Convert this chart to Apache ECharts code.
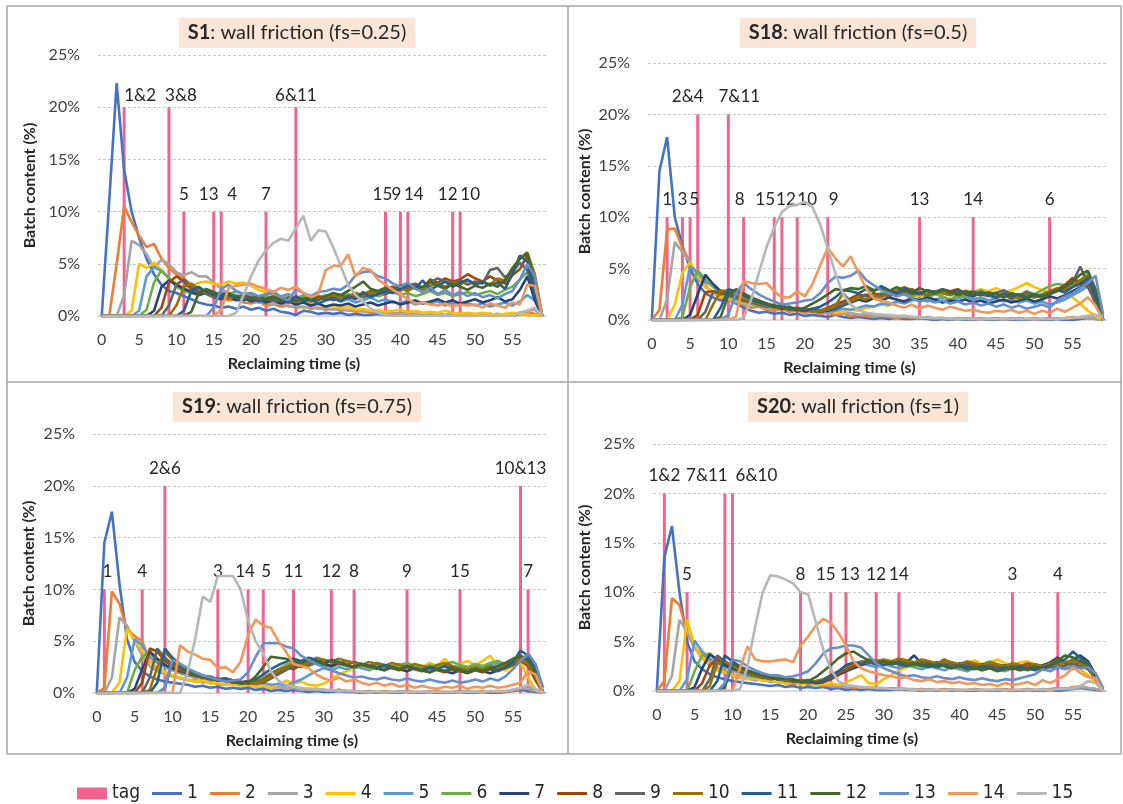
<!DOCTYPE html>
<html>
<head>
<meta charset="utf-8">
<script src="https://cdn.jsdelivr.net/npm/echarts@6/dist/echarts.min.js"></script>
<style>
html, body { margin: 0; padding: 0; background: #fff; }
#chart { width: 1123px; height: 804px; }
</style>
</head>
<body>
<div id="chart"></div>
<script>
// 回收时间 (s)
var times = [0,1,2,3,4,5,6,7,8,9,10,11,12,13,14,15,16,17,18,19,20,21,22,23,24,25,26,27,28,29,
             30,31,32,33,34,35,36,37,38,39,40,41,42,43,44,45,46,47,48,49,50,51,52,53,54,55,56,57,58,59];
var batchNames = ['1','2','3','4','5','6','7','8','9','10','11','12','13','14','15'];
var batchColors = ['#4472C4','#ED7D31','#A5A5A5','#FFC000','#5B9BD5','#70AD47','#264478','#9E480E',
                   '#636363','#997300','#255E91','#43682B','#698ED0','#F1975A','#B7B7B7'];
var tagColor = '#F0658F';
var yTicks = [0, 5, 10, 15, 20, 25];

// S1: wall friction (fs=0.25)
var linesS1 = [
 [0,11,22.3,14,10,7.5,5.5,4,3,2.4, 2.2,1.9,1.6,1.3,1.1,1,0.8,0.9,0.7,0.9, 0.6,0.8,0.5,0.7,0.4,0.3,0.1,0.5,0.4,0.2, 0.3,0.2,0.3,0.1,0.2,0.1,0.1,0.2,0.1,0.1, 0.1,0,0.1,0,0.1,0,0,0.1,0,0, 0,0.1,0,0,0.1,0,0.2,0.1,0.1,0],
 [0,0,5,10.5,9,7.7,6.6,6.9,5.5,4.6, 4,3.6,3,2.6,2.2,2,1.8,1.5,1.6,1.3, 1.2,1.4,1,1.1,0.9,1,0.8,0.9,0.7,0.8, 0.6,0.7,0.5,0.6,0.4,0.5,0.3,0.4,0.3,0.2, 0.3,0.2,0.2,0.1,0.2,0.1,0.1,0.2,0.1,0.1, 0.1,0.1,0.2,0.1,0.1,0.2,0.3,0.4,0.2,0],
 [0,0,0,2,7.2,6.8,5.9,4.6,5.4,5, 4.2,3.9,4.2,3.8,3.8,3.2,2.6,2.2,1.9,1.6, 1.5,1.3,1.4,1.1,1.2,0.9,1,0.8,0.9,0.7, 0.8,0.6,0.7,0.5,0.6,0.4,0.5,0.4,0.3,0.3, 0.2,0.3,0.2,0.2,0.1,0.2,0.1,0.1,0.2,0.1, 0.1,0.1,0.1,0.2,0.1,0.1,0.3,0.5,0.6,0],
 [0,0,0,0,0.5,5,4.6,5.1,4.4,3.6, 3.1,2.7,2.8,3.2,3.3,3.1,3,3.3,3.1,3.2, 2.9,2.5,2.3,2,1.8,2.1,1.6,1.4,1.2,1.1, 0.9,1,0.8,0.9,0.6,0.7,0.5,0.6,0.4,0.5, 0.6,0.4,0.5,0.3,0.4,0.3,0.5,0.3,0.2,0.3, 0.2,0.3,0.2,0.1,0.2,0.3,0.2,0.1,0.1,0],
 [0,0,0,0,0,0.5,3.8,4.7,4.3,3.6, 3,2.6,2.4,2.1,2.2,1.9,2.3,2,2.4,2.1, 2.2,1.8,2,2.2,1.9,2.1,1.7,2,1.6,1.8, 1.5,1.7,1.4,1.6,1.3,1.5,1.8,1.4,1.6,1.3, 1.2,1.5,1.1,1.3,1.2,1.4,1,1.3,1.1,1.2, 1,1.2,0.9,1.1,1.3,1,1.4,2,1.5,0],
 [0,0,0,0,0,0,0.6,3.2,4.4,3.6, 2.8,2.4,2.2,2,2.3,2.1,1.9,2.2,2,1.8, 2,1.7,1.9,1.6,1.8,1.5,1.7,1.9,1.6,1.8, 2,1.7,1.9,2.1,1.8,2,2.2,1.9,2.1,2.3, 2,2.2,1.9,2.1,2.4,2,2.2,1.9,2.1,2.3, 2,2.2,2.4,2.1,2.5,2.8,3.5,4.2,2.5,0],
 [0,0,0,0,0,0,0,0.5,2.8,3.4, 3,2.6,2.3,2,2.2,1.8,1.6,1.9,1.5,1.7, 1.4,1.6,1.3,1.5,1.2,1.4,1.1,1.3,1,1.2, 0.9,1.1,1,1.2,0.9,1.1,1.3,1,1.2,1.4, 1.1,1.3,1.5,1.2,1.4,1.6,1.3,1.5,1.2,1.4, 1.6,1.3,1.5,1.8,1.4,1.6,2.5,3.8,1.5,0],
 [0,0,0,0,0,0,0,0,0.8,3.2, 3.8,3.3,2.6,2.2,2.4,2,1.8,2.1,1.7,1.9, 1.6,1.8,1.5,1.7,1.4,1.6,1.8,1.5,1.7,1.9, 1.6,1.8,2,1.7,1.9,2.1,2.4,2.2,2.6,2.8, 2.5,2.9,3.1,2.7,3.5,3.2,3.6,3.3,3.5,4, 3.6,3.3,3.8,3.4,3.1,3.9,4.5,5.8,3,0],
 [0,0,0,0,0,0,0,0,0,1, 3,3.5,2.8,2.4,2.1,1.8,2,1.7,1.9,1.6, 1.8,1.5,1.7,1.4,1.6,1.3,1.5,1.7,1.4,1.6, 1.8,1.5,1.7,1.9,2.1,1.8,2,2.3,2.1,2.5, 2.8,2.6,3,2.7,3.2,3.6,3.3,3.1,3.4,3, 3.3,3.1,4.4,4.6,3.7,4.2,5.1,4.4,2.2,0],
 [0,0,0,0,0,0,0,0,0,0, 1,2.8,3.1,2.6,2.2,1.9,2.1,1.7,1.9,1.6, 1.8,1.5,1.7,1.9,1.6,1.8,1.5,1.7,1.4,1.6, 1.8,2,1.7,1.9,2.2,2,2.3,2.1,2.5,2.3, 2.6,2.4,2.8,2.5,2.9,3.1,2.8,3.2,3,3.4, 3.1,3.3,3,3.6,3.4,4.2,5.5,6.1,4,0],
 [0,0,0,0,0,0,0,0,0,0, 0,0.5,2.4,2.8,2.3,2,1.8,2.1,1.7,1.5, 1.7,1.4,1.6,1.8,1.5,1.3,1.9,1.4,1.6,1.2, 1.5,1.7,1.4,1.9,1.6,2.3,1.8,2.1,2.4,2.2, 2.6,3,2.7,3.4,2.5,2.9,3.3,2.8,3.2,3.5, 3,3.3,2.9,3.2,2.6,4,5.8,5.2,2,0],
 [0,0,0,0,0,0,0,0,0,0, 0,0,0.4,2.2,2.6,2.3,2,2.2,1.8,2, 1.7,1.9,1.6,1.8,1.5,1.7,1.4,1.6,1.8,1.5, 1.9,2.2,2,2.4,2.8,3.3,2.6,2.4,2.7,2.5, 2.9,3.1,2.6,2.8,3.3,2.9,2.6,3.1,2.8,2.5, 2.9,2.7,3.1,2.8,3.4,4.6,5.5,6,3.2,0],
 [0,0,0,0,0,0,0,0,0,0, 0,0,0,0,0,0.8,2.6,3,2.4,2.1, 2.2,1.9,2.1,2.4,1.8,1.5,2.6,2.2,1.9,2.3, 2.4,2.6,2.5,3,3.9,4.2,4.3,3.8,3.6,3.1, 2.8,3.2,2.6,2.3,2.7,2.1,2.5,2,2.3,1.9, 2.2,1.8,2,1.7,2.1,2.4,3.5,5,3.8,0],
 [0,0,0,0,0,0,0,0,0,0, 0,0,0,0,0,0,0.6,2.7,2.9,3, 3.1,2.8,2.6,2.3,2.7,2.5,2.8,2.2,1.8,2.1, 4.4,4.8,4.8,5.9,3.8,4.6,4.4,3.5,3,2.5, 2.1,1.6,1.2,1.3,1.1,1,1.2,0.9,1.1,1, 1.1,0.8,1.2,1,0.8,1.3,1.1,3,2.9,0],
 [0,0,0,0,0,0,0,0,0,0, 0,0,0,0,0,0,0,0,0.3,2, 3.8,5.3,6.3,7,7.4,7.2,8.4,9.6,7.2,8.2, 8.1,6.6,4.8,3,2,1.4,0.7,0.3,0.1,0, 0,0,0,0,0,0,0,0,0,0, 0,0,0,0,0,0,0.3,0.5,0.8,0]
];
// [时间, 高度, 标签]
var tagsS1 = [[3,20,'1&2'],[9,20,'3&8'],[11,10,'5'],[15,10,'13'],[16,10,'4'],[22,10,'7'],[26,20,'6&11'],
              [38,10,'15'],[40,10,'9'],[41,10,'14'],[47,10,'12'],[48,10,'10']];

// S18: wall friction (fs=0.5)
var linesS18 = [
 [0,14.5,17.8,10,7.2,5,3.5,2.6,2.2,1.9, 2,1.6,1.2,0.9,0.7,0.8,0.6,0.7,0.5,0.6, 0.4,0.5,0.4,0.3,0.5,0.3,0.2,0.3,0.2,0.1, 0.2,0.1,0.2,0.1,0.1,0.2,0.1,0,0.1,0, 0.1,0,0,0.1,0,0,0.1,0,0,0, 0.1,0,0,0.1,0,0,0.1,0.2,0.1,0],
 [0,1,8.8,8.9,7,5.6,4.3,3.4,2.6,2.2, 1.9,1.7,1.5,1.2,1.3,1,0.9,1.1,0.8,0.9, 0.7,0.8,0.6,0.7,0.5,0.6,0.4,0.5,0.4,0.3, 0.4,0.3,0.2,0.3,0.2,0.3,0.2,0.1,0.2,0.1, 0.1,0.2,0.1,0.1,0.1,0.2,0.1,0.1,0.2,0.1, 0.1,0.1,0.2,0.1,0.2,0.3,0.2,0.4,0.3,0],
 [0,0,2,7.6,6.6,5.6,4.1,3.2,2.7,2.3, 2.1,1.8,1.6,1.4,1.5,1.2,1.1,1.3,1,0.9, 1,0.8,0.9,0.7,0.8,0.6,0.7,0.5,0.6,0.4, 0.5,0.4,0.3,0.4,0.3,0.2,0.3,0.2,0.2,0.1, 0.2,0.1,0.1,0.2,0.1,0.1,0.1,0.2,0.1,0.1, 0.2,0.1,0.1,0.2,0.1,0.2,0.3,0.2,0.1,0],
 [0,0,0,1.5,4.6,5.6,4.4,3.2,2.6,2.3, 2.1,1.9,1.7,1.5,1.6,1.3,1.4,1.2,1,1.1, 0.9,1,0.8,0.9,0.7,0.8,1,0.9,1.2,1.3, 1.5,1.4,1.7,1.9,2.1,2.4,2.2,2.6,2.5,2.8, 2.6,2.9,2.7,3,2.8,3.1,2.7,2.9,3.2,3.6, 3.2,2.9,2.7,3,2.6,2.2,1.6,0.9,0.4,0],
 [0,0,0,0,1.5,5.2,4.6,3.7,3.3,2.7, 2.4,2.1,1.9,1.6,1.8,1.5,1.3,1.4,1.2,1, 1.1,0.9,1,0.8,0.9,1.1,1,1.2,1.4,1.3, 1.6,1.5,1.8,1.6,1.9,2.1,1.8,2,2.2,1.9, 2.1,2.3,2,2.2,1.9,2.1,1.8,2,1.7,1.9, 1.6,1.8,1.5,1.7,2,2.4,2.8,3.3,2.1,0],
 [0,0,0,0,0.3,3.2,4.8,4,3.2,2.6, 2.3,2,1.8,1.6,1.4,1.5,1.2,1.3,1,1.1, 0.9,1,0.8,1,1.3,1.6,1.9,2.2,2.5,2.3, 2.6,2.4,2.7,2.5,2.3,2.6,2.2,2.5,2.3,2, 2.4,2.2,2.6,2.9,2.5,2.7,2.3,2.6,2.4,2.8, 2.5,2.9,3.3,3.5,3.4,3.6,3.9,4.5,2.8,0],
 [0,0,0,0,0,0.5,2.5,4.4,3.5,2.8, 2.5,2.2,2,1.8,1.6,1.5,1.3,1.1,1.2,1, 0.9,1,0.8,0.9,1.1,1.4,1.7,2,1.8,2.1, 1.9,2.2,2,1.8,2.1,1.9,2.2,2,1.7,1.9, 1.8,2,1.7,1.9,1.6,1.8,2,1.7,1.9,2.1, 1.8,2,2.3,2.1,2.4,2.8,3.2,3.8,2.2,0],
 [0,0,0,0,0,0,0.5,2.7,2.8,2.5, 2.7,2.3,2,1.8,1.5,1.6,1.3,1.4,1.1,1.2, 1,1.1,0.9,1.2,1.5,1.8,2.1,2.5,2.3,2.6, 2.4,2.7,2.5,2.8,3,2.6,2.9,2.7,3,2.8, 3,2.6,2.4,2.7,2.5,2.2,2.4,2.1,2.3,2.5, 2.2,2.4,2.7,3,3.4,4.1,3.6,3.2,1.8,0],
 [0,0,0,0,0,0,0,0.8,2.7,2.9, 2.6,2.2,1.9,1.7,1.5,1.3,1.4,1.2,1,1.1, 0.9,1,0.8,1,1.2,1.5,1.8,2.1,2.4,2.2, 2.5,2.3,2.6,2.8,2.5,2.7,2.4,2.6,2.9,2.7, 2.4,2.6,2.8,2.5,2.3,2.6,2.9,2.5,2.3,2.7, 2.4,2.2,2.5,2.8,3.1,3.6,5.2,3.5,1.5,0],
 [0,0,0,0,0,0,0,0,1.5,2.8, 2.9,2.5,2.1,1.8,1.6,1.4,1.2,1.3,1.1,0.9, 1,0.8,0.9,1.1,1.4,2.6,1.8,2.2,2,2.4, 2.2,2.6,2.9,3.2,2.9,2.7,2.5,2.8,2.6,2.4, 2.7,2.5,2.3,2.6,2.4,2.2,2.5,2.3,2.1,2.4, 2.2,2.5,2.8,3.1,2.9,3.3,3.8,4.3,2.5,0],
 [0,0,0,0,0,0,0,0,0,1.2, 3,2.8,2.4,2,1.7,1.5,1.3,1.4,1.1,1, 0.9,1.1,1.3,1.7,2.2,2.9,2.8,2.6,3,2.8, 3.3,2.9,2.6,3.1,2.8,2.5,2.9,2.7,3,2.6, 2.9,2.5,2.3,2.7,2.4,2.2,2.6,2.3,2.5,2.2, 2.5,2.3,2.6,2.9,2.7,3.2,3.5,4.1,2.3,0],
 [0,0,0,0,0,0,0,0,0,0.3, 2.4,3,2.6,2.2,1.9,1.6,1.4,1.2,1.3,1, 1.2,1.6,2,2.5,3,2.9,3.1,3,3.3,2.9, 3.1,2.8,3.2,2.9,2.7,3.1,2.8,2.6,2.9,2.7, 2.5,2.8,2.6,2.4,2.7,2.5,2.2,2.6,2.4,2.1, 2.4,2.2,2.6,2.9,3.2,3.8,4.4,4.8,3,0],
 [0,0,0,0,0,0,0,0,0,0, 0.5,2.6,3.6,3,2.5,2.1,1.8,1.5,1.6,1.7, 1.9,2,2.6,3.6,4.2,4.1,4.3,4.8,3.9,3.4, 2.9,2.6,2.3,2.5,2.1,1.8,2,1.7,1.9,1.6, 1.8,1.5,1.7,1.4,1.6,1.3,1.5,1.2,1.4,1.1, 1.3,1.5,1.2,1.9,2.3,2.6,3.1,3.6,4.3,0.5],
 [0,0,0,0,0,0,0,0,0,0, 0,0.3,3.8,3.6,3.5,3.6,2.8,2.2,2.2,2.8, 2.3,3.5,5.3,7,6,5.2,6.2,4.6,3.1,2.1, 1.9,1.7,1.4,1.2,1.5,1.1,1.4,1.2,1,1.3, 1.1,0.9,1,0.8,0.7,0.9,0.8,1,0.7,0.9, 0.6,0.9,0.7,1.1,0.8,1.2,1.6,2.2,1.4,0],
 [0,0,0,0,0,0,0,0,0,0, 0,0,0.2,2,4.6,7.1,9,10.5,11.1,11.2, 11.5,11,9.3,7,4.5,2.5,1.5,1,0.7,0.6, 0.5,0.5,0.4,0.4,0.3,0.3,0.2,0.2,0.2,0.1, 0.1,0.1,0.1,0.1,0.1,0.1,0.1,0.1,0.1,0.1, 0.1,0.1,0.1,0.1,0.2,0.2,0.3,0.4,0.5,0.3]
];
var tagsS18 = [[2,10,'1'],[4,10,'3'],[5,10,'5'],[6,20,'2&4'],[10,20,'7&11'],[12,10,'8'],[16,10,'15'],
               [17,10,'12'],[19,10,'10'],[23,10,'9'],[35,10,'13'],[42,10,'14'],[52,10,'6']];

// S19: wall friction (fs=0.75)
var linesS19 = [
 [0,14.5,17.5,10.5,5.2,3,2.1,1.6,1.3,1.1, 1,0.9,0.8,0.6,0.7,0.5,0.6,0.4,0.5,0.4, 0.5,0.3,0.4,0.2,0.3,0.2,0.3,0.2,0.1,0.2, 0.1,0.1,0.2,0.1,0.1,0,0.1,0,0.1,0, 0,0.1,0,0,0.1,0,0,0,0.1,0, 0,0.1,0,0,0.1,0.2,0.3,0.2,0.1,0],
 [0,0.5,9.8,8.6,6.1,5.5,5,3.1,2.4,2, 1.7,1.5,1.3,1.1,1.2,1,0.9,0.8,0.9,0.7, 0.8,0.6,0.7,0.5,0.6,0.4,0.5,0.4,0.3,0.4, 0.3,0.2,0.3,0.2,0.2,0.1,0.2,0.1,0.2,0.1, 0.1,0.2,0.1,0.1,0.1,0.2,0.1,0.1,0.2,0.1, 0.1,0.2,0.1,0.2,0.1,0.3,0.4,0.6,0.3,0],
 [0,0,1.5,7.3,6.5,5,3.6,2.6,2.1,1.8, 1.6,1.4,1.2,1.3,1,1.1,0.9,0.8,0.9,0.7, 0.8,0.6,0.7,0.5,0.6,0.4,0.5,0.3,0.4,0.3, 0.3,0.2,0.3,0.2,0.2,0.1,0.2,0.1,0.1,0.1, 0.2,0.1,0.1,0.1,0.2,0.1,0.1,0.1,0.1,0.2, 0.1,0.1,0.2,0.1,0.2,0.3,0.5,0.4,0.2,0],
 [0,0,0,1,6.2,5,4.1,3,2.4,2, 1.7,1.5,1.3,1.1,1.2,0.9,1,0.8,0.9,0.7, 0.8,0.6,0.7,0.5,0.8,1.2,0.9,1.1,0.8,0.7, 0.9,1.3,1.8,2.1,2.4,2.6,2.3,2.5,2.7,2.4, 2.6,2.3,2.8,2.5,2.9,2.6,3.3,2.5,2.8,3.1, 2.7,3.1,3.6,2.5,2.2,2.6,2.9,1.5,0.3,0],
 [0,0,0,0,1.5,5.2,4.6,3.5,2.9,2.5, 2.2,1.9,1.7,1.5,1.6,1.3,1.4,1.1,1.2,1, 1.1,0.9,1,0.8,0.9,0.7,1,1.3,1.7,2.1, 2.4,2.2,2.5,2.3,2.6,2.4,2.2,2.5,2.3,2.6, 2.8,2.5,2.3,2.6,2.4,2.7,2.5,2.2,2.5,2.3, 2.6,2.4,2.7,2.9,2.6,3,3.3,3.6,2.4,0],
 [0,0,0,0,0,2.2,3.5,3.9,3.1,2.6, 2.3,2,1.8,1.6,1.4,1.5,1.2,1.3,1.1,0.9, 1,1.2,1.5,1.9,2.3,2.7,3,2.8,2.6,2.9, 2.7,2.5,2.8,2.6,2.4,2.7,2.5,2.3,2.6,2.4, 2.7,2.9,2.6,2.4,2.7,2.5,2.8,3,2.7,2.5, 2.8,2.6,2.9,3.1,2.8,3.2,3.4,3,1.5,0],
 [0,0,0,0,0,0.4,2.3,4,3.3,2.7, 2.4,2.1,1.9,1.7,1.5,1.6,1.3,1.4,1.2,1, 1.1,0.9,1.2,1.6,2,2.4,2.7,2.5,2.8,3.1, 2.8,2.6,2.9,2.7,2.5,2.8,2.6,2.4,2.2,2.5, 2.3,2.1,2.4,2.2,2,2.3,2.1,1.9,2.2,2, 2.3,2.1,1.9,2.2,2.5,2.9,3.5,3.2,1.8,0],
 [0,0,0,0,0,0,1,4.3,4,3.1, 2.6,2.2,1.9,1.7,1.5,1.3,1.4,1.2,1,1.1, 0.9,1,1.3,1.8,2.2,2.5,2.3,2.7,3.1,2.9, 3.2,3,2.8,3.1,2.9,2.7,2.5,2.8,2.6,2.4, 2.2,2.5,2.3,2.1,2.4,2.2,2,2.3,2.1,1.9, 2.2,2,2.3,2.1,2.4,2.7,3.1,2.6,1.2,0],
 [0,0,0,0,0,0,0,1.5,4.3,3.4, 2.8,2.3,2,1.8,1.6,1.4,1.2,1.3,1.1,1, 1.1,0.9,1,1.4,1.8,2.2,2.6,2.9,2.7,3, 2.8,3.1,2.9,2.7,3,2.8,2.6,2.9,2.7,2.5, 2.3,2.6,2.4,2.2,2.5,2.3,2.1,2.4,2.2,2, 2.3,2.1,2.4,2.2,2.5,2.8,3.2,2.9,1.5,0],
 [0,0,0,0,0,0,0,0.3,2.5,4, 3.2,2.6,2.2,1.9,1.7,1.5,1.3,1.4,1.2,1, 1.1,0.9,1.2,1.6,2.1,2.5,2.8,2.6,2.9,3.4, 3.2,3,3.3,3.1,2.9,2.7,3,2.8,2.6,2.9, 2.7,2.5,2.8,2.6,2.4,2.7,2.9,2.6,2.4,2.2, 2.5,2.3,2.6,2.4,2.7,3,3.3,2.8,1.6,0],
 [0,0,0,0,0,0,0,0,1,4.3, 3.4,2.8,2.3,2,1.7,1.5,1.3,1.4,1.2,1, 1.1,1.3,1.8,2.3,2.7,3,3.3,3.1,3.4,3.2, 2.9,3.2,3,2.7,2.5,2.8,2.6,2.4,2.7,2.5, 2.3,2.6,2.4,2.2,2.5,2.3,2.6,2.4,2.2,2, 2.3,2.1,2.4,2.2,2.5,3,4.1,3.6,2.2,0],
 [0,0,0,0,0,0,0,0,0,0.5, 3,2.5,2.1,1.8,1.6,1.4,1.2,1.3,1.1,0.9, 1,1.6,2.5,3.5,3.4,3.3,3.1,2.9,3.2,3, 2.8,3.1,2.9,2.7,2.5,2.8,2.6,2.4,2.2,2.5, 2.3,2.6,2.4,2.2,2,2.3,2.1,2.4,2.2,2, 2.3,2.1,2.4,2.6,2.9,3.3,3.6,3.2,1.9,0],
 [0,0,0,0,0,0,0,0,0,0.5, 3.2,2.8,2.4,2,1.7,1.5,1.3,1.1,1.2,1.3, 2,3.5,4.8,4.8,4.8,4.5,4.3,3.6,3.2,2.8, 2.5,2.2,1.9,1.7,1.5,1.6,1.4,1.3,1.5,1.3, 1.2,1.4,1.2,1.1,1.3,1.1,1,1.2,1,1.1, 1.3,1.1,1.4,1.2,1.6,2.3,3.1,3.8,2.8,0.5],
 [0,0,0,0,0,0,0,0,0,0, 0,4.6,4,3.7,3.3,3.2,2.4,2.5,2,3, 5.6,7.1,6.5,6.3,5,4,2.8,2.6,2.4,1.8, 1.4,1.2,1.5,1.1,1.3,1,0.8,1,0.7,0.9, 0.6,0.8,0.5,0.7,0.5,0.4,0.6,0.5,0.7,0.4, 0.6,0.5,0.7,0.5,0.6,0.8,1,2.1,1.8,0],
 [0,0,0,0,0,0,0,0,0,0, 0,0,2,5.2,9.3,8.8,11.3,11.3,11.3,10, 7,5,3.8,2.1,1.2,0.8,0.6,0.5,0.4,0.4, 0.3,0.3,0.2,0.2,0.2,0.1,0.1,0.1,0.1,0.1, 0.1,0.1,0.1,0.1,0.1,0.1,0.1,0.1,0.1,0.1, 0.1,0.1,0.2,0.2,0.2,0.3,0.5,0.8,0.4,0]
];
var tagsS19 = [[1,10,'1'],[6,10,'4'],[9,20,'2&6'],[16,10,'3'],[20,10,'14'],[22,10,'5'],[26,10,'11'],
               [31,10,'12'],[34,10,'8'],[41,10,'9'],[48,10,'15'],[56,20,'10&13'],[57,10,'7']];

// S20: wall friction (fs=1)
var linesS20 = [
 [0,13.5,16.7,10,5,3,2.2,1.7,1.4,1.2, 1,0.9,0.8,0.7,0.6,0.5,0.6,0.4,0.5,0.3, 0.4,0.3,0.4,0.2,0.3,0.1,0.2,0.1,0.2,0.1, 0.1,0.1,0.2,0.1,0.1,0,0.1,0,0.1,0, 0.1,0,0,0.1,0,0,0.1,0,0,0.1, 0,0,0.1,0,0.1,0.2,0.3,0.2,0.1,0],
 [0,1,9.4,8.7,6,4.3,3.8,3,2.4,2, 1.7,1.5,1.3,1.1,1.2,1,0.9,0.8,0.7,0.8, 0.6,0.7,0.5,0.6,0.4,0.5,0.3,0.4,0.3,0.3, 0.2,0.3,0.2,0.2,0.1,0.2,0.1,0.1,0.2,0.1, 0.1,0.1,0.2,0.1,0.1,0.1,0.2,0.1,0.1,0.2, 0.1,0.1,0.2,0.3,0.2,0.4,0.5,0.3,0.2,0],
 [0,0,1.5,7.2,6,4.4,3.3,2.6,2.1,1.8, 1.5,1.3,1.4,1.1,1.2,0.9,1,0.8,0.9,0.7, 0.8,0.6,0.7,0.5,0.6,0.4,0.5,0.3,0.4,0.3, 0.3,0.2,0.3,0.2,0.2,0.1,0.2,0.1,0.1,0.2, 0.1,0.1,0.2,0.1,0.1,0.2,0.1,0.1,0.1,0.2, 0.1,0.2,0.1,0.2,0.3,0.2,0.4,0.3,0.2,0],
 [0,0,0,1,7.2,4.6,3.4,2.7,2.2,1.9, 1.6,1.4,1.2,1.3,1,1.1,0.9,0.8,0.9,0.7, 0.8,0.6,0.7,0.8,0.6,0.9,1.2,1.6,0.8,0.7, 1.2,1.6,2.1,2.4,2.7,2.5,2.8,2.6,2.9,2.7, 2.5,2.8,3.1,2.7,2.9,3.2,2.8,2.6,2.9,3, 2.7,2.5,2.8,2.6,2.3,2.5,2.2,1.6,0.9,0],
 [0,0,0,0,1.2,5.1,4,3.3,2.8,2.4, 2.1,1.8,1.6,1.4,1.5,1.2,1.3,1.1,1,0.9, 1,0.8,1.1,1.4,1.8,2.2,2.5,2.8,2.6,2.4, 2.7,2.5,2.3,2.6,2.4,2.2,2.5,2.3,2.1,2.4, 2.2,2,2.3,2.1,2.4,2.2,2,2.3,2.1,2.4, 2.2,2.5,2.3,2.6,2.4,2.2,2.6,2.3,1.6,0],
 [0,0,0,0,0,2,3.6,3.8,3,2.5, 2.2,1.9,1.7,1.5,1.3,1.4,1.2,1,1.1,0.9, 1,0.8,1,1.3,1.7,2.1,2.4,2.7,2.9,3.1, 2.8,2.6,2.9,2.7,2.5,2.8,2.6,2.9,2.7,2.5, 2.8,2.6,2.4,2.7,3,2.7,2.5,2.8,2.6,2.4, 2.7,2.5,2.8,2.6,2.9,2.7,3,2.5,1.4,0],
 [0,0,0,0,0,0.4,2.3,3.7,3.2,2.6, 2.3,2,1.8,1.6,1.4,1.5,1.2,1.3,1.1,0.9, 1,0.8,0.9,1.2,1.6,2,2.3,2.6,2.9,2.7, 3,2.8,3.1,2.9,3.6,2.8,2.6,2.9,2.7,2.5, 2.8,2.6,2.4,2.7,2.5,2.3,2.6,2.4,2.2,2.5, 2.3,2.6,2.9,3.4,2.8,3.2,3.6,3,1.6,0],
 [0,0,0,0,0,0,0.8,2.6,3.2,2.9, 2.5,2.1,1.8,1.6,1.4,1.5,1.3,1.1,1.2,1, 1.1,0.9,1,1.3,1.7,2.1,2.5,2.8,3,2.8, 3.1,2.9,3.2,3,2.8,3.1,2.9,2.7,3.2,2.8, 2.6,2.9,2.7,2.5,2.8,2.6,2.4,2.7,2.5,2.8, 2.6,2.4,2.7,3.3,2.9,2.6,3,2.6,1.3,0],
 [0,0,0,0,0,0,0,1.2,3.6,3, 2.5,2.1,1.8,1.6,1.4,1.2,1.3,1.1,0.9,1, 0.8,0.9,1.1,1.5,1.9,2.3,2.7,3,2.8,3.1, 2.9,2.7,3,2.8,2.6,2.9,2.7,2.5,2.8,2.6, 2.4,2.7,2.5,2.3,2.6,2.4,2.2,2.5,2.3,2.1, 2.4,2.2,2.5,2.3,2.6,2.8,2.5,2.2,1.2,0],
 [0,0,0,0,0,0,0,0.5,2.8,3, 2.6,2.2,1.9,1.7,1.5,1.3,1.4,1.2,1,1.1, 0.9,1,1.2,1.6,2,2.4,2.7,2.9,3.2,3, 3.2,3,3.3,3.1,2.9,3.2,3,2.8,3.1,2.9, 2.7,3,2.8,2.6,2.9,2.7,2.5,2.8,2.6,2.4, 2.7,2.5,2.8,2.6,2.9,3.1,2.8,2.4,1.3,0],
 [0,0,0,0,0,0,0,0,1,3.6, 3,2.5,2.1,1.8,1.6,1.4,1.2,1.3,1.1,0.9, 1,0.8,1.1,1.5,2,2.6,2.9,2.7,3.1,2.8, 2.6,2.9,2.7,2.5,2.8,2.6,2.4,2.7,2.5,2.3, 2.6,2.4,2.2,2.5,2.3,2.1,2.4,2.2,2.5,2.3, 2.1,2.4,2.6,2.9,3.2,4,3.3,2.9,1.5,0],
 [0,0,0,0,0,0,0,0,0,0.4, 2.8,2.4,2,1.8,1.6,1.4,1.2,1.3,1.1,0.9, 1,1.4,2,2.6,3.3,3.8,4,3.5,3.1,2.8, 3,2.7,2.9,2.6,2.8,2.5,2.7,2.4,2.6,2.3, 2.5,2.2,2.4,2.1,2.3,2,2.2,2.4,2.1,2.3, 2.5,2.2,2.6,3.1,3.6,3.4,3,2.7,1.6,0],
 [0,0,0,0,0,0,0,0,0,0.8, 3.2,3,2.5,2.1,1.8,1.6,1.6,1.4,1.5,1.7, 2,2.8,3.8,4.3,4.4,4.6,4.6,4.4,3.6,2.8, 2.3,2,1.7,1.5,1.6,1.4,1.3,1.5,1.3,1.2, 1.4,1.2,1.1,1.3,1.1,1,1.2,1.1,1.3,1.5, 1.7,2.2,2,2.4,2.2,2.5,2.3,2.4,1.8,0.3],
 [0,0,0,0,0,0,0,0,0,0, 0,2.3,4.5,3.2,3,3,3.1,3.2,2.9,4.6, 5.5,6.6,7.3,6.9,5.9,4.6,3,2.3,2,1.8, 1.6,1.5,1.3,1.4,1.1,1,1.2,0.9,1,0.8, 0.9,0.7,0.8,0.6,0.7,0.5,0.8,0.6,0.7,0.9, 0.6,1.1,0.8,1.2,1.6,2.4,1.8,1.4,1.3,0],
 [0,0,0,0,0,0,0,0,0,0, 0,0.2,2.5,6.5,10,11.7,11.6,11.3,10.9,10, 9.8,7,4.2,2.2,1,0.6,0.5,0.4,0.4,0.3, 0.3,0.2,0.2,0.2,0.1,0.1,0.1,0.1,0.1,0.1, 0.1,0.1,0.1,0.1,0.1,0.1,0.1,0.1,0.1,0.1, 0.1,0.1,0.1,0.2,0.2,0.3,0.5,1,0.8,0]
];
var tagsS20 = [[1,20,'1&2'],[4,10,'5'],[9,20,'7&11'],[10,20,'6&10'],[19,10,'8'],[23,10,'15'],[25,10,'13'],
               [29,10,'12'],[32,10,'14'],[47,10,'3'],[53,10,'4']];

// 四个子图的位置, 以及标签的手动挪位 (像素)
var panels = [
    {name: 'S1', sub: ': wall friction (fs=0.25)', lines: linesS1, tags: tagsS1,
     grid: {left: 98, top: 55, width: 448, height: 261}, titleX: 288, titleY: 18, yGap: 60,
     nudge: {3: [16, 6], 9: [12, 6], 15: [-5, 0], 16: [11, 0], 26: [0, 6], 38: [-3, 0], 40: [-4, 0],
             41: [6, 0], 47: [-5, 0], 48: [10, 0]}},
    {name: 'S18', sub: ': wall friction (fs=0.5)', lines: linesS18, tags: tagsS18,
     grid: {left: 648, top: 63, width: 459, height: 257}, titleX: 849, titleY: 18, yGap: 55,
     nudge: {5: [4, 0], 6: [-10, 0], 10: [11, 0], 12: [-4, 0], 16: [-9, 0], 17: [4, 0], 19: [10, 0], 23: [6, 0]}},
    {name: 'S19', sub: ': wall friction (fs=0.75)', lines: linesS19, tags: tagsS19,
     grid: {left: 93, top: 434, width: 454, height: 259}, titleX: 288, titleY: 392, yGap: 56,
     nudge: {1: [3, 0], 20: [-3, 0], 22: [3, 0]}},
    {name: 'S20', sub: ': wall friction (fs=1)', lines: linesS20, tags: tagsS20,
     grid: {left: 653, top: 444, width: 454, height: 247}, titleX: 849, titleY: 392, yGap: 60,
     nudge: {9: [-18, 0], 10: [24, 0], 23: [-5, 0], 25: [4, 0]}}
];

var FONT = 'Lato, "Open Sans", sans-serif';
var LINE_ICON = 'path://M0,0 L30,0 L30,3 L0,3 Z';

function CheckData() {
    panels.forEach(function (p) {
        p.lines.forEach(function (a, i) {
            if (a.length !== times.length) {
                throw new Error(p.name + ' series ' + (i + 1) + ' has ' + a.length + ' points');
            }
        });
    });
}

function GetTagData(aTags) {
    var aData = times.map(function () { return null; });
    aTags.forEach(function (t) { aData[t[0]] = t[1]; });
    return aData;
}

function GetOption() {
    var aGrid = [], aX = [], aY = [], aSeries = [], aTitle = [];
    panels.forEach(function (p, i) {
        aGrid.push(p.grid);
        aTitle.push({
            text: '{b|' + p.name + '}{n|' + p.sub + '}',
            left: p.titleX, top: p.titleY, textAlign: 'center',
            backgroundColor: '#FBE5D6', padding: [5, 9],
            textStyle: {
                fontWeight: 'normal',
                rich: {
                    b: {fontFamily: FONT, fontSize: 20, fontWeight: 'bold', color: '#262626'},
                    n: {fontFamily: FONT, fontSize: 20, fontWeight: 'normal', color: '#262626'}
                }
            }
        });
        aX.push({
            type: 'category', gridIndex: i, data: times, boundaryGap: true,
            axisTick: {show: false},
            axisLine: {lineStyle: {color: '#D9D9D9', width: 1.5}},
            axisLabel: {interval: 4, fontFamily: FONT, fontSize: 16, color: '#404040', margin: 16},
            name: 'Reclaiming time (s)', nameLocation: 'middle', nameGap: 40,
            nameTextStyle: {fontFamily: FONT, fontSize: 16, fontWeight: 'bold', color: '#262626', padding: [0, 56, 0, 0]}
        });
        aY.push({
            type: 'value', gridIndex: i, min: yTicks[0], max: yTicks[yTicks.length - 1], interval: 5,
            axisLine: {show: false}, axisTick: {show: false},
            splitLine: {lineStyle: {color: '#C8C8C8', type: [3, 2], width: 1}},
            axisLabel: {formatter: '{value}%', fontFamily: FONT, fontSize: 16, color: '#404040', margin: 18},
            name: 'Batch content (%)', nameLocation: 'middle', nameRotate: 90, nameGap: p.yGap,
            nameTextStyle: {fontFamily: FONT, fontSize: 16, fontWeight: 'bold', color: '#262626'}
        });
        var aTagText = {};
        p.tags.forEach(function (t) { aTagText[t[0]] = t[2]; });
        var jNudge = p.nudge;
        aSeries.push({
            name: 'tag', type: 'bar', xAxisIndex: i, yAxisIndex: i,
            data: GetTagData(p.tags), barWidth: 3, z: 1,
            itemStyle: {color: tagColor},
            label: {
                show: true, position: 'top', distance: 9,
                fontFamily: FONT, fontSize: 17, color: '#262626',
                formatter: function (param) { return aTagText[param.dataIndex] || ''; }
            },
            // 标签手动错开, 避免重叠
            labelLayout: function (param) {
                var off = jNudge[param.dataIndex] || [0, 0];
                return {dx: off[0], dy: off[1], hideOverlap: false};
            }
        });
        p.lines.forEach(function (aVal, k) {
            aSeries.push({
                name: batchNames[k], type: 'line', xAxisIndex: i, yAxisIndex: i,
                data: aVal, symbol: 'none', z: 2,
                itemStyle: {color: batchColors[k]},
                lineStyle: {color: batchColors[k], width: 2.6}
            });
        });
    });

    var aLegend = [{name: 'tag', icon: 'rect'}];
    batchNames.forEach(function (n) { aLegend.push({name: n, icon: LINE_ICON}); });

    return {
        animation: false,
        title: aTitle,
        grid: aGrid,
        xAxis: aX,
        yAxis: aY,
        legend: {
            data: aLegend,
            left: 72, top: 779, itemWidth: 30, itemHeight: 12, itemGap: 12,
            textStyle: {fontFamily: '"Liberation Sans Narrow", "DejaVu Sans Condensed", sans-serif', fontSize: 19, color: '#262626'}
        },
        graphic: [
            {type: 'rect', shape: {x: 7, y: 6, width: 1114, height: 748}, style: {fill: 'none', stroke: '#A6A6A6', lineWidth: 1.5}},
            {type: 'line', shape: {x1: 568, y1: 6, x2: 568, y2: 754}, style: {stroke: '#A6A6A6', lineWidth: 1.5}},
            {type: 'line', shape: {x1: 7, y1: 382, x2: 1121, y2: 382}, style: {stroke: '#A6A6A6', lineWidth: 1.5}}
        ],
        series: aSeries
    };
}

CheckData();
var myChart = echarts.init(document.getElementById('chart'));
myChart.setOption(GetOption());
</script>
</body>
</html>
